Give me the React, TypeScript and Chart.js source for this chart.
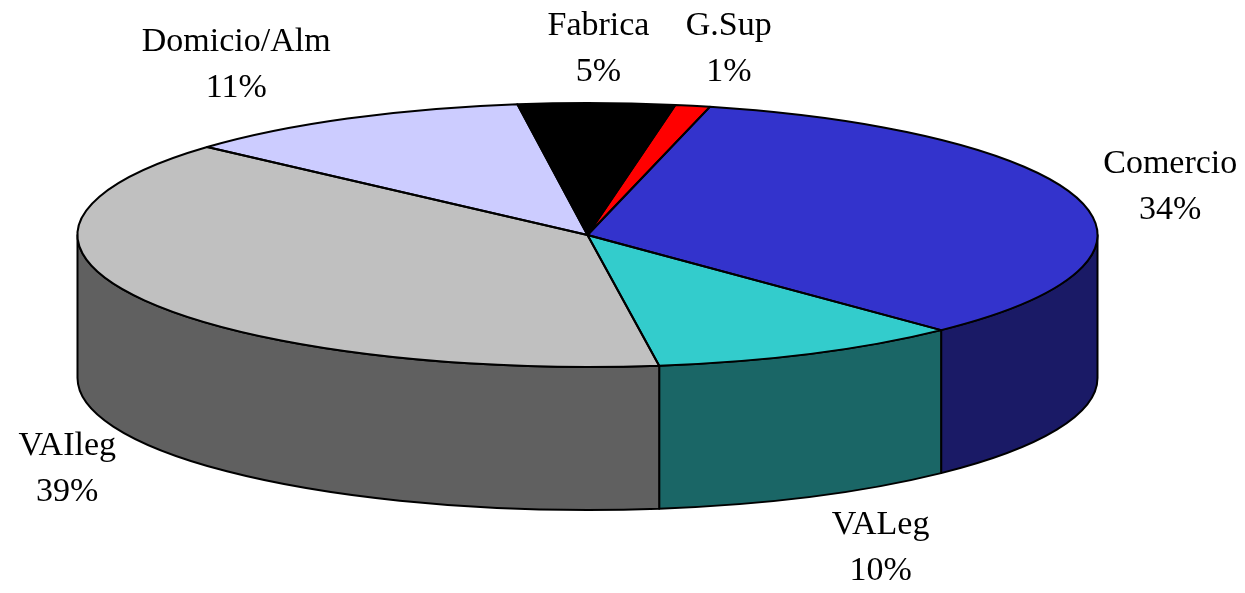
import React, { useEffect, useRef } from 'react';
import { Chart, registerables } from 'chart.js';

Chart.register(...registerables);

// ---- data ----
const categories = ['Fabrica', 'G.Sup', 'Comercio', 'VALeg', 'VAIleg', 'Domicio/Alm'];
const values = [4.95, 1.1, 33.95, 9.95, 38.85, 11.2];
const topColors = ['#000000', '#FF0000', '#3333CC', '#33CCCC', '#C0C0C0', '#CCCCFF'];
const sideColors = ['#000000', '#800000', '#1A1A66', '#1A6666', '#606060', '#666680'];
const startRotation = -7.9;

// ---- geometry of the 3D look ----
const GEO = { cx: 587.5, cy: 235, a: 510, b: 132, depth: 143 };
const LABEL_OFFSET = 54;
const LABEL_NUDGE: [number, number][] = [[1, 0], [25, -4], [38, 0], [46, 3], [-23, 3], [-86, -6]];
const FONT = '34px "Liberation Serif", "Times New Roman", serif';
const LINE_GAP = 46;
const STROKE_W = 2;

const pie3d = {
  id: 'pie3d',
  beforeDatasetsDraw(chart: any) {
    const ctx: CanvasRenderingContext2D = chart.ctx;
    const meta = chart.getDatasetMeta(0);
    const { cx, cy, a, b, depth } = GEO;
    ctx.save();
    ctx.lineWidth = STROKE_W;
    ctx.strokeStyle = '#000';
    ctx.lineJoin = 'round';
    meta.data.forEach((el: any, i: number) => {
      const s = el.startAngle;
      const e = el.endAngle;
      for (const k of [-2 * Math.PI, 0, 2 * Math.PI, 4 * Math.PI]) {
        const lo = Math.max(s, k);
        const hi = Math.min(e, k + Math.PI);
        if (lo >= hi) continue;
        ctx.beginPath();
        ctx.ellipse(cx, cy, a, b, 0, lo, hi);
        ctx.lineTo(cx + a * Math.cos(hi), cy + depth + b * Math.sin(hi));
        ctx.ellipse(cx, cy + depth, a, b, 0, hi, lo, true);
        ctx.closePath();
        ctx.fillStyle = sideColors[i];
        ctx.fill();
        ctx.stroke();
      }
    });
    ctx.restore();
    const el0 = meta.data[0];
    const R = el0.outerRadius;
    ctx.save();
    ctx.translate(cx, cy);
    ctx.scale(a / R, b / R);
    ctx.translate(-el0.x, -el0.y);
  },
  afterDatasetsDraw(chart: any) {
    const ctx: CanvasRenderingContext2D = chart.ctx;
    ctx.restore();
    const meta = chart.getDatasetMeta(0);
    const { cx, cy, a, b, depth } = GEO;
    ctx.save();
    ctx.lineWidth = STROKE_W;
    ctx.strokeStyle = '#000';
    ctx.lineJoin = 'round';
    meta.data.forEach((el: any) => {
      ctx.beginPath();
      ctx.moveTo(cx, cy);
      ctx.ellipse(cx, cy, a, b, 0, el.startAngle, el.endAngle);
      ctx.closePath();
      ctx.stroke();
    });
    // labels
    const total = values.reduce((p, v) => p + v, 0);
    ctx.fillStyle = '#000';
    ctx.font = FONT;
    ctx.textAlign = 'center';
    ctx.textBaseline = 'middle';
    meta.data.forEach((el: any, i: number) => {
      const mid = (el.startAngle + el.endAngle) / 2;
      const sn = Math.sin(mid);
      const x = cx + (a + LABEL_OFFSET) * Math.cos(mid) + LABEL_NUDGE[i][0];
      const y = cy + (b + LABEL_OFFSET) * sn + (sn > 0 ? depth : 0) + LABEL_NUDGE[i][1];
      const pct = Math.round((values[i] / total) * 100) + '%';
      ctx.fillText(categories[i], x, y - LINE_GAP / 2);
      ctx.fillText(pct, x, y + LINE_GAP / 2);
    });
    ctx.restore();
  },
};

export default function App() {
  const ref = useRef<HTMLCanvasElement>(null);
  useEffect(() => {
    if (!ref.current) return;
    const chart = new Chart(ref.current, {
      type: 'pie',
      data: {
        labels: categories,
        datasets: [
          {
            data: values,
            backgroundColor: topColors,
            borderWidth: 0,
            hoverOffset: 0,
            clip: false as any,
          } as any,
        ],
      },
      options: {
        animation: false,
        responsive: true,
        maintainAspectRatio: false,
        rotation: startRotation,
        events: [],
        layout: { padding: 0 },
        plugins: {
          legend: { display: false },
          tooltip: { enabled: false },
          title: { display: false },
        },
      },
      plugins: [pie3d],
    });
    return () => chart.destroy();
  }, []);
  return (
    <div style={{ position: 'fixed', left: 0, top: 0, width: 1245, height: 593, background: '#fff' }}>
      <canvas ref={ref} />
    </div>
  );
}
